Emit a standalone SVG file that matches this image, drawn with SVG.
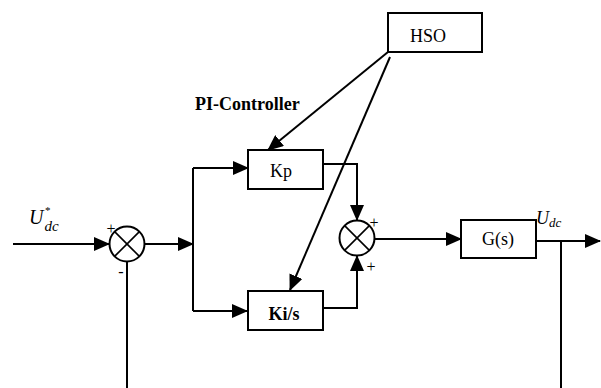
<svg xmlns="http://www.w3.org/2000/svg" width="601" height="388" viewBox="0 0 601 388">
<style>
.box{fill:#fff;stroke:#000;stroke-width:2}
.ln{fill:none;stroke:#000;stroke-width:2}
.arr{marker-end:url(#ah)}
.sum{fill:#fff;stroke:#000;stroke-width:2}
.x{stroke:#000;stroke-width:1.6}
.t{font-family:"Liberation Serif","Times New Roman",serif;font-size:18px;fill:#000}
.b{font-weight:bold}
.i{font-style:italic}
.s{font-family:"Liberation Serif","Times New Roman",serif;font-size:16px;fill:#000}
</style>
<defs>
<marker id="ah" markerUnits="userSpaceOnUse" markerWidth="16" markerHeight="14" refX="15" refY="7" orient="auto" viewBox="0 0 16 14">
<path d="M0,0 L16,7 L0,14 z" fill="#000"/>
</marker>
</defs>
<rect width="601" height="388" fill="#fff"/>
<g id="connectors">
<line class="ln arr" x1="13" y1="244" x2="109" y2="244"/>
<line class="ln arr" x1="145" y1="244" x2="193" y2="244"/>
<polyline class="ln" points="193,168 193,311"/>
<line class="ln arr" x1="193" y1="168" x2="248" y2="168"/>
<line class="ln arr" x1="193" y1="311" x2="247" y2="311"/>
<polyline class="ln arr" points="323,164 357,164 357,220"/>
<polyline class="ln arr" points="323,308 357,308 357,256"/>
<line class="ln arr" x1="375" y1="239" x2="461" y2="239"/>
<line class="ln arr" x1="536" y1="241" x2="600" y2="241"/>
<line class="ln" x1="561" y1="241" x2="561" y2="388"/>
<line class="ln" x1="127" y1="262" x2="127" y2="388"/>
<line class="ln arr" x1="388" y1="52" x2="268" y2="150"/>
<line class="ln arr" x1="390" y1="57" x2="290" y2="290"/>
</g>
<g id="sum1">
<circle class="sum" cx="127" cy="244" r="17.5"/>
<line class="x" x1="114.6" y1="231.6" x2="139.4" y2="256.4"/>
<line class="x" x1="139.4" y1="231.6" x2="114.6" y2="256.4"/>
<text class="s" x="111" y="234" text-anchor="middle">+</text>
<text class="s" x="121" y="277" text-anchor="middle">-</text>
</g>
<g id="sum2">
<circle class="sum" cx="357" cy="238" r="17.5"/>
<line class="x" x1="344.6" y1="225.6" x2="369.4" y2="250.4"/>
<line class="x" x1="369.4" y1="225.6" x2="344.6" y2="250.4"/>
<text class="s" x="374" y="228" text-anchor="middle">+</text>
<text class="s" x="371" y="272" text-anchor="middle">+</text>
</g>
<g id="hso">
<rect class="box" x="388" y="13" width="94" height="39"/>
<text class="t" x="428" y="42" text-anchor="middle">HSO</text>
</g>
<g id="pi-label">
<text class="t b" x="195" y="110">PI-Controller</text>
</g>
<g id="kp">
<rect class="box" x="248" y="150" width="75" height="39"/>
<text class="t" x="281" y="177" text-anchor="middle">Kp</text>
</g>
<g id="kis">
<rect class="box" x="248" y="291" width="75" height="39"/>
<text class="t b" x="284" y="320" text-anchor="middle">Ki/s</text>
</g>
<g id="gs">
<rect class="box" x="461" y="220" width="75" height="38"/>
<text class="t" x="498" y="245" text-anchor="middle">G(s)</text>
</g>
<g id="udc-ref">
<text class="t i" x="29" y="224" style="font-size:20px">U<tspan x="45" y="213.5" style="font-size:11px;font-style:normal">*</tspan><tspan x="44.5" y="231" style="font-size:15px">dc</tspan></text>
</g>
<g id="udc-out">
<text class="t i" x="536" y="224" style="font-size:18px">U<tspan x="549" y="227" style="font-size:13px">dc</tspan></text>
</g>
</svg>
